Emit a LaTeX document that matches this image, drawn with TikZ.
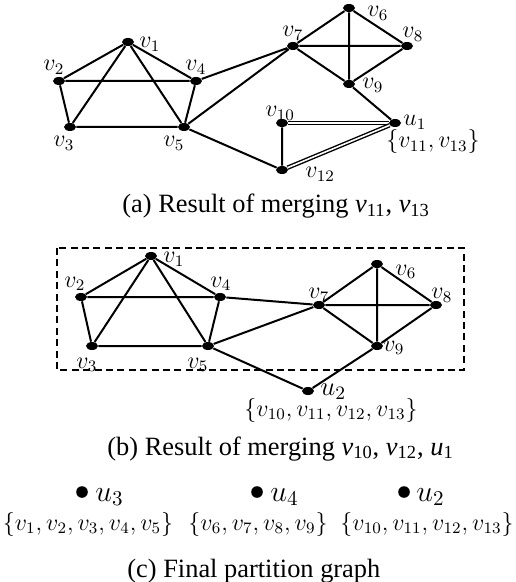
\RequirePackage{fix-cm}
\documentclass[tikz,border=0pt]{standalone}
\usepackage[no-math]{fontspec}
\newfontfamily\capfont{Liberation Serif}
\usetikzlibrary{shapes.geometric}
\newcommand{\cv}[2]{\textit{#1}\textsubscript{#2}}
\tikzset{
  vdot/.style={ellipse, fill=black, inner sep=0pt, minimum width=6pt, minimum height=4pt},
  cdot/.style={circle, fill=black, inner sep=0pt, minimum size=5.8pt},
  lab/.style={font=\fontsize{12}{14}\selectfont, inner sep=0pt, anchor=base west},
  biglab/.style={font=\fontsize{15}{17}\selectfont, inner sep=0pt, anchor=base west},
  setlab/.style={font=\fontsize{12}{14}\selectfont, inner sep=0pt, anchor=base},
  captext/.style={font=\capfont\fontsize{13.2}{16}\selectfont, inner sep=0pt, anchor=base west},
  gedge/.style={line width=1pt},
  dbl/.style={line width=0.7pt, double=white, double distance=0.8pt},
  dbox/.style={line width=0.6pt, dash pattern=on 3.5pt off 2.2pt}
}
\begin{document}
\begin{tikzpicture}[x=0.5pt,y=-0.5pt]
\useasboundingbox (0,0) rectangle (515,582);
% ---------- (a) ----------
\node[vdot] (a1) at (128,42) {};
\node[vdot] (a2) at (59,81) {};
\node[vdot] (a3) at (70,127) {};
\node[vdot] (a4) at (196,81) {};
\node[vdot] (a5) at (184,127) {};
\node[vdot] (a6) at (349,8) {};
\node[vdot] (a7) at (293,46) {};
\node[vdot] (a8) at (407,46) {};
\node[vdot] (a9) at (349,84) {};
\node[vdot] (a10) at (282,123) {};
\node[vdot] (au1) at (395,123) {};
\node[vdot] (a12) at (282,170) {};
\draw[gedge] (a1)--(a2) (a1)--(a3) (a1)--(a4) (a1)--(a5) (a2)--(a4) (a2)--(a3)
  (a3)--(a5) (a4)--(a5) (a4)--(a7) (a5)--(a7) (a5)--(a12)
  (a6)--(a7) (a6)--(a8) (a6)--(a9) (a7)--(a8) (a7)--(a9) (a8)--(a9)
  (a9)--(au1) (a10)--(a12);
\draw[dbl] (a10)--(au1);
\draw[dbl] (a12)--(au1);
\node[lab] (la1) at (139,48) {$v_1$};
\node[lab] (la2) at (43,71) {$v_2$};
\node[lab] (la4) at (185,71) {$v_4$};
\node[lab] (la3) at (53,147) {$v_3$};
\node[lab] (la5) at (163,147) {$v_5$};
\node[lab] (la6) at (367,17) {$v_6$};
\node[lab] (la7) at (282,37) {$v_7$};
\node[lab] (la8) at (402,38) {$v_8$};
\node[lab] (la9) at (362,89) {$v_9$};
\node[lab] (la10) at (265,117) {$v_{10}$};
\node[lab] (lau1) at (403,126) {$u_1$};
\node[lab] (lsa) at (386,148) {$\{v_{11},v_{13}\}$};
\node[lab] (la12) at (305,178) {$v_{12}$};
\node[captext] (capa) at (122,213) {(a) Result of merging \cv{v}{11}, \cv{v}{13}};
% ---------- (b) ----------
\draw[dbox] (57,248) rectangle (464,370);
\node[vdot] (b1) at (151,256) {};
\node[vdot] (b2) at (81,297) {};
\node[vdot] (b4) at (220,297) {};
\node[vdot] (b3) at (92,346) {};
\node[vdot] (b5) at (208,346) {};
\node[vdot] (b6) at (377,264) {};
\node[vdot] (b7) at (319,305) {};
\node[vdot] (b8) at (436,305) {};
\node[vdot] (b9) at (377,346) {};
\node[vdot] (bu2) at (308,391) {};
\draw[gedge] (b1)--(b2) (b1)--(b3) (b1)--(b4) (b1)--(b5) (b2)--(b4) (b2)--(b3)
  (b3)--(b5) (b4)--(b5) (b4)--(b7) (b5)--(b7) (b5)--(bu2) (bu2)--(b9)
  (b6)--(b7) (b6)--(b8) (b6)--(b9) (b7)--(b8) (b7)--(b9) (b8)--(b9);
\node[lab] (lb1) at (163,263) {$v_1$};
\node[lab] (lb2) at (64,287) {$v_2$};
\node[lab] (lb4) at (210,287) {$v_4$};
\node[lab] (lb3) at (76,368) {$v_3$};
\node[lab] (lb5) at (187,368) {$v_5$};
\node[lab] (lb6) at (395,275) {$v_6$};
\node[lab] (lb7) at (308,299) {$v_7$};
\node[lab] (lb8) at (431,299) {$v_8$};
\node[lab] (lb9) at (383,351) {$v_9$};
\node[lab, font=\fontsize{13.5}{15}\selectfont] (lbu2) at (320,395) {$u_2$};
\node[setlab] (lsb) at (331,416) {$\{v_{10},v_{11},v_{12},v_{13}\}$};
\node[captext] (capb) at (107,455) {(b) Result of merging \cv{v}{10}, \cv{v}{12}, \cv{u}{1}};
% ---------- (c) ----------
\node[cdot] (c3) at (82,492) {};
\node[cdot] (c4) at (257,492) {};
\node[cdot] (c2) at (404,492) {};
\node[biglab] (lc3) at (95,501) {$u_3$};
\node[biglab] (lc4) at (270,501) {$u_4$};
\node[biglab] (lc2) at (416,501) {$u_2$};
\node[setlab] (sc3) at (88,530) {$\{v_1,v_2,v_3,v_4,v_5\}$};
\node[setlab] (sc4) at (258,530) {$\{v_6,v_7,v_8,v_9\}$};
\node[setlab] (sc2) at (427,530) {$\{v_{10},v_{11},v_{12},v_{13}\}$};
\node[captext] (capc) at (127,577) {(c) Final partition graph};
\end{tikzpicture}
\end{document}
